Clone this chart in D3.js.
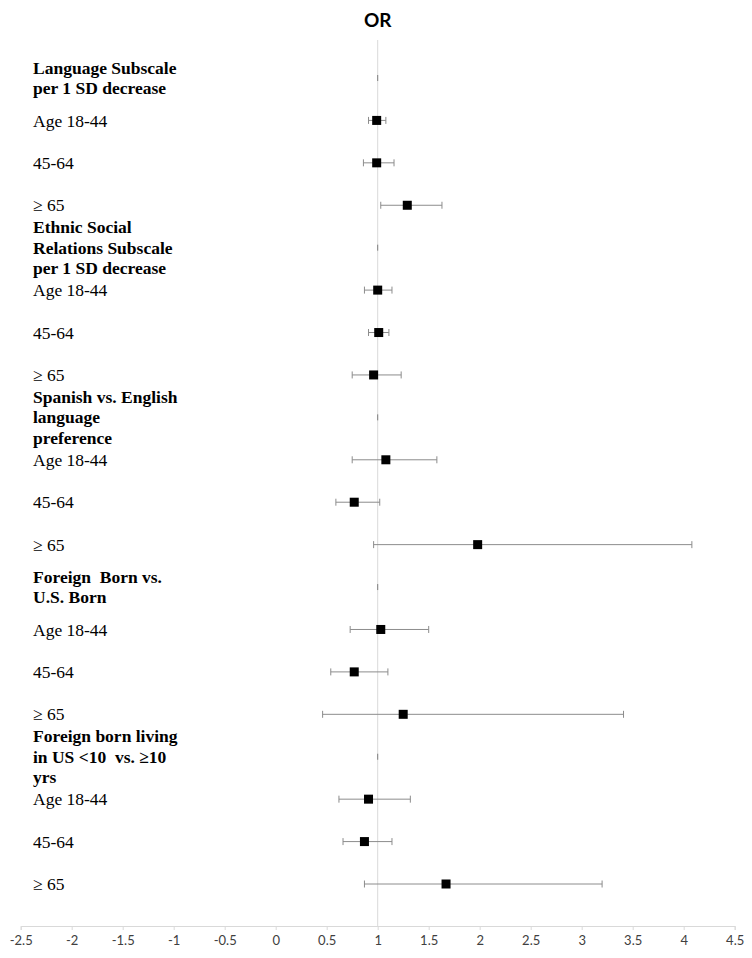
<!DOCTYPE html>
<html>
<head>
<meta charset="utf-8">
<script src="https://cdn.jsdelivr.net/npm/d3@7"></script>
<style>
  body { margin: 0; background: #fff; }
  svg { display: block; }
</style>
</head>
<body>
<div id="chart"></div>
<script>
"use strict";

// group headings (one entry per group, lines as drawn)
var headerLines = [
  ["Language Subscale", "per 1 SD decrease"],
  ["Ethnic Social", "Relations Subscale", "per 1 SD decrease"],
  ["Spanish vs. English", "language", "preference"],
  ["Foreign  Born vs.", "U.S. Born"],
  ["Foreign born living", "in US <10  vs. \u226510", "yrs"]
];
var ageGroups = ["Age 18-44", "45-64", "\u2265 65"];

// odds ratios and 95% CI, 3 age groups per heading
var oddsRatio = [0.99, 0.99, 1.29,  1.00, 1.01, 0.96,  1.08, 0.77, 1.98,  1.03, 0.77, 1.25,  0.91, 0.87, 1.67];
var ciLow     = [0.91, 0.86, 1.03,  0.87, 0.91, 0.75,  0.75, 0.59, 0.96,  0.73, 0.54, 0.46,  0.62, 0.66, 0.87];
var ciHigh    = [1.08, 1.16, 1.63,  1.14, 1.11, 1.23,  1.58, 1.02, 4.08,  1.50, 1.10, 3.41,  1.32, 1.14, 3.20];
var headerRef = 1;

var xTicks = [-2.5, -2, -1.5, -1, -0.5, 0, 0.5, 1, 1.5, 2, 2.5, 3, 3.5, 4, 4.5];

var W = 752, H = 958;
var axisY = 926;

// build the row list: heading row then its age rows
var rows = [];
headerLines.forEach(function(lines, gi) {
  rows.push({id: "h" + gi, type: "header", lines: lines});
  ageGroups.forEach(function(a, ai) {
    var k = gi * 3 + ai;
    rows.push({id: "r" + k, type: "row", label: a, or: oddsRatio[k], lo: ciLow[k], hi: ciHigh[k]});
  });
});

var svg = d3.select("#chart").append("svg")
  .attr("width", W)
  .attr("height", H);

var x = d3.scaleLinear()
  .domain([xTicks[0], xTicks[xTicks.length - 1]])
  .range([20.7, 734.7]);

var y = d3.scalePoint()
  .domain(rows.map(function(d) { return d.id; }))
  .range([78, 884]);

// title
svg.append("text")
  .attr("x", x(1))
  .attr("y", 27)
  .attr("text-anchor", "middle")
  .attr("font-family", "Lato, 'Open Sans', sans-serif")
  .attr("font-weight", "bold")
  .attr("font-size", 19)
  .attr("fill", "#000")
  .text("OR");

// reference line at OR = 1
svg.append("line")
  .attr("x1", x(1)).attr("x2", x(1))
  .attr("y1", 40).attr("y2", axisY)
  .attr("stroke", "#d9d9d9")
  .attr("stroke-width", 1);

// x axis
var axis = svg.append("g")
  .attr("transform", "translate(0," + axisY + ")")
  .call(d3.axisBottom(x)
    .tickValues(xTicks)
    .tickSize(4)
    .tickPadding(6)
    .tickFormat(function(d) { return String(d); }));
axis.select(".domain").attr("stroke", "#d9d9d9");
axis.selectAll(".tick line").attr("stroke", "#d9d9d9");
axis.selectAll(".tick text")
  .attr("font-family", "Lato, 'Open Sans', sans-serif")
  .attr("font-size", 13)
  .attr("fill", "#404040");

// left labels
var labelX = 33;
var lineH = 20.5;
var serif = "'Liberation Serif', 'Times New Roman', serif";

rows.forEach(function(d) {
  var cy = y(d.id);
  if (d.type === "header") {
    var t = svg.append("text")
      .attr("font-family", serif)
      .attr("font-weight", "bold")
      .attr("font-size", 17.5)
      .attr("fill", "#000")
      .style("white-space", "pre");
    var n = d.lines.length;
    d.lines.forEach(function(line, i) {
      t.append("tspan")
        .attr("x", labelX)
        .attr("y", cy + (i - (n - 1) / 2) * lineH)
        .attr("dy", "0.35em")
        .text(line);
    });
  } else {
    svg.append("text")
      .attr("x", labelX)
      .attr("y", cy)
      .attr("dy", "0.35em")
      .attr("font-family", serif)
      .attr("font-size", 17.5)
      .attr("fill", "#000")
      .text(d.label);
  }
});

// header reference ticks
svg.selectAll("line.href")
  .data(rows.filter(function(d) { return d.type === "header"; }))
  .enter()
  .append("line")
    .attr("class", "href")
    .attr("x1", x(headerRef)).attr("x2", x(headerRef))
    .attr("y1", function(d) { return y(d.id) - 3; })
    .attr("y2", function(d) { return y(d.id) + 3; })
    .attr("stroke", "#7f7f7f")
    .attr("stroke-width", 1);

var dataRows = rows.filter(function(d) { return d.type === "row"; });
var capH = 3.5;
var whisk = svg.append("g").attr("stroke", "#8c8c8c").attr("stroke-width", 1);

whisk.selectAll("line.ci")
  .data(dataRows)
  .enter()
  .append("line")
    .attr("class", "ci")
    .attr("x1", function(d) { return x(d.lo); })
    .attr("x2", function(d) { return x(d.hi); })
    .attr("y1", function(d) { return y(d.id); })
    .attr("y2", function(d) { return y(d.id); });

["lo", "hi"].forEach(function(k) {
  whisk.selectAll("line.cap-" + k)
    .data(dataRows)
    .enter()
    .append("line")
      .attr("class", "cap-" + k)
      .attr("x1", function(d) { return x(d[k]); })
      .attr("x2", function(d) { return x(d[k]); })
      .attr("y1", function(d) { return y(d.id) - capH; })
      .attr("y2", function(d) { return y(d.id) + capH; });
});

var sq = 9;
svg.selectAll("rect.mark")
  .data(dataRows)
  .enter()
  .append("rect")
    .attr("class", "mark")
    .attr("x", function(d) { return x(d.or) - sq / 2; })
    .attr("y", function(d) { return y(d.id) - sq / 2; })
    .attr("width", sq)
    .attr("height", sq)
    .attr("fill", "#000");
</script>
</body>
</html>
